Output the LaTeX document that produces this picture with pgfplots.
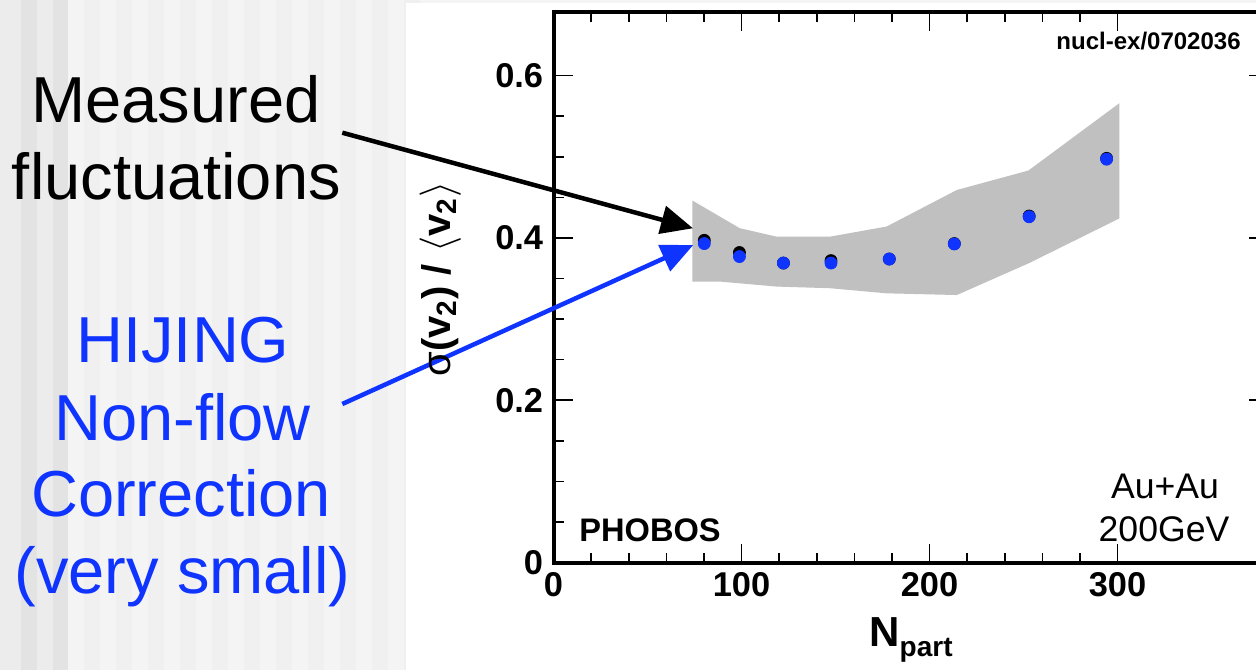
\documentclass[border=0pt]{standalone}
\usepackage{pgfplots}
\pgfplotsset{compat=1.18}
\usepackage{fontspec}
\setmainfont{Liberation Sans}
\usetikzlibrary{arrows.meta}
\definecolor{hblue}{RGB}{16,52,255}
\definecolor{bandgray}{RGB}{192,192,192}
\definecolor{bgA}{RGB}{244,244,244}
\definecolor{bgB}{RGB}{240,240,240}
\definecolor{bgD}{RGB}{227,227,227}
\definecolor{bgE}{RGB}{236,236,236}
\begin{document}
\begin{tikzpicture}
\begin{scope}[x=0.5pt,y=0.5pt]
\fill[bgA] (0,0) rectangle (1256,670);
\fill[bgE] (0,0) rectangle (21,670);
\fill[bgD] (21,0) rectangle (37,670);
\fill[bgE] (37,0) rectangle (53,670);
\fill[bgD] (53,0) rectangle (68,670);
\foreach \i in {0,...,10} {\fill[bgB] (84+32*\i,0) rectangle +(16,670);}
\fill[white] (406,0) rectangle (1256,667);
\end{scope}

\begin{axis}[
  at={(276.75pt,53.75pt)}, anchor=south west,
  scale only axis, width=357.2pt, height=275.1pt,
  xmin=0, xmax=380, ymin=0, ymax=0.678,
  xtick={0,100,200,300}, ytick={0,0.2,0.4,0.6},
  minor x tick num=4, minor y tick num=3,
  tick align=inside, major tick length=9.5pt, minor tick length=5pt,
  axis line style={line width=2pt},
  tick style={line width=0.8pt,black},
  ticklabel style={font=\bfseries\fontsize{17.2}{19}\selectfont, inner sep=0pt},
  /pgf/number format/assume math mode=true,
  xticklabel shift=5pt, yticklabel shift=5pt,
  yticklabel style={/pgf/number format/fixed, /pgf/number format/precision=1},
]
\addplot[fill=bandgray, draw=none, forget plot] coordinates {
 (73.9,0.446) (99,0.412) (118.7,0.4015) (147,0.4015) (177.2,0.414) (214.5,0.459) (252.6,0.483) (301,0.566)
 (301,0.424) (253,0.369) (214.5,0.3296) (177.2,0.3317) (147,0.338) (118.7,0.340) (89.5,0.346) (73.9,0.346)
} -- cycle;
\addplot[only marks, mark=*, mark size=3pt, black] coordinates {
 (80.2,0.397) (98.9,0.382) (122.3,0.369) (147.6,0.372) (178.6,0.374) (213.2,0.393) (253.0,0.427) (294.2,0.498)
};
\addplot[only marks, mark=*, mark size=3pt, color=hblue] coordinates {
 (80.2,0.393) (98.9,0.377) (122.3,0.369) (147.6,0.369) (178.6,0.374) (213.2,0.3925) (253.0,0.426) (294.2,0.497)
};
\end{axis}

\begin{scope}[x=0.5pt,y=0.5pt]
\draw[line width=2.25pt, -{Triangle[length=16pt,width=14pt]}] (342.3,537.3) -- (693,441.7);
\draw[line width=2.25pt, hblue, -{Triangle[length=16pt,width=14pt]}] (342.3,266) -- (693.3,425);
\begin{scope}[font=\fontsize{32.5}{38}\selectfont, inner sep=0pt]
\node[anchor=base] at (176,547.3) {Measured};
\node[anchor=base] at (176.4,470.7) {fluctuations};
\node[anchor=base, text=hblue] at (183,307.3) {HIJING};
\node[anchor=base, text=hblue] at (182.5,230) {Non-flow};
\node[anchor=base, text=hblue] at (181,153.3) {Correction};
\node[anchor=base, text=hblue] at (182.5,77) {(very small)};
\end{scope}
\node[anchor=base, rotate=90, inner sep=0pt] at (450.7,391) {\bfseries\fontsize{20}{22}\selectfont{\mdseries σ}(v\textsubscript{2}) / $\langle$v\textsubscript{2}$\rangle$};
\node[anchor=base west, inner sep=0pt] at (869,23.3) {\bfseries\fontsize{21}{24}\selectfont N\raisebox{-5pt}{\fontsize{14}{16}\selectfont part}};
\node[anchor=base west, inner sep=0pt] at (579,128.3) {\bfseries\fontsize{16.3}{18}\selectfont PHOBOS};
\node[anchor=base east, inner sep=0pt] at (1241,620) {\bfseries\fontsize{12}{14}\selectfont nucl-ex/0702036};
\node[anchor=base, inner sep=0pt] at (1165,171.7) {\fontsize{17.8}{20}\selectfont Au+Au};
\node[anchor=base, inner sep=0pt] at (1164,128.3) {\fontsize{17.8}{20}\selectfont 200GeV};
\end{scope}
\pgfresetboundingbox
\useasboundingbox (0,0) rectangle (628pt,335pt);
\end{tikzpicture}
\end{document}
